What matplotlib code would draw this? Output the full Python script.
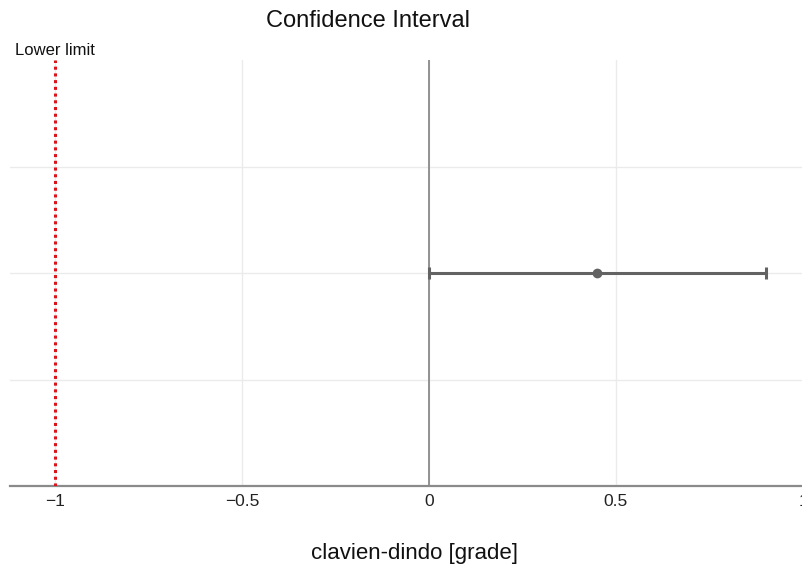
import matplotlib
matplotlib.use("Agg")
import matplotlib.pyplot as plt

# data
outcomes = ["clavien-dindo"]
estimates = [0.45]
ci_lower = [0.0]
ci_upper = [0.9]
lower_limit = -1.0
x_ticks = [-1, -0.5, 0, 0.5, 1]
x_tick_labels = ["\u22121", "\u22120.5", "0", "0.5", "1"]

plt.rcParams['font.family'] = ['Liberation Sans', 'DejaVu Sans']

W, H = 802, 570
fig = plt.figure(figsize=(W / 100, H / 100), dpi=100)
left_px, right_px, top_px, bottom_px = 10, 803, 60, 486
ax = fig.add_axes([left_px / W, (H - bottom_px) / H,
                   (right_px - left_px) / W, (bottom_px - top_px) / H])

ax.set_xlim(-1.12, 1.0)
ax.set_ylim(0, 4)

# grid
ax.set_yticks([1, 2, 3])
ax.set_yticklabels([])
ax.set_xticks(x_ticks)
ax.set_xticklabels(x_tick_labels, fontsize=12.5, color="#222222")
ax.grid(True, color="#ebebeb", linewidth=1.0)
ax.tick_params(length=0, pad=5.5)
ax.set_axisbelow(True)

for s in ["top", "right", "left"]:
    ax.spines[s].set_visible(False)
ax.spines["bottom"].set_color("#8a8a8a")
ax.spines["bottom"].set_linewidth(1.6)

# zero line
ax.axvline(0, color="#8a8a8a", linewidth=1.3, zorder=1)

# lower limit line
ax.axvline(lower_limit, color="#d9141c", linewidth=2.2, linestyle=(0, (1, 1.2)), zorder=3)
ax.annotate("Lower limit", xy=(lower_limit, 1.0), xycoords=("data", "axes fraction"),
            xytext=(0, 1.5), textcoords="offset points", ha="center", va="bottom",
            fontsize=12, color="#111111")

# error bar
ypos = [2 for _ in outcomes]
err_lo = [e - l for e, l in zip(estimates, ci_lower)]
err_hi = [u - e for e, u in zip(estimates, ci_upper)]
ax.errorbar(estimates, ypos, xerr=[err_lo, err_hi], fmt="o", color="#636363",
            ecolor="#636363", elinewidth=2.2, capsize=4, capthick=2.2,
            markersize=6, zorder=4)

fig.text(368 / W, 1 - 21 / H, "Confidence Interval", ha="center", va="center",
         fontsize=17, color="#111111")
fig.text(414 / W, 1 - 553 / H, "clavien-dindo [grade]", ha="center", va="center",
         fontsize=16, color="#111111")

fig.savefig("out.png", dpi=100)
